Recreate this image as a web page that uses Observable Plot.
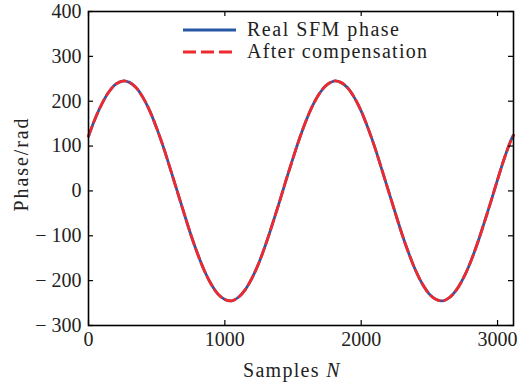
<!DOCTYPE html>
<html><head><meta charset="utf-8">
<script src="https://cdn.jsdelivr.net/npm/d3@7"></script>
<script src="https://cdn.jsdelivr.net/npm/@observablehq/plot@0.6"></script>
<style>body{margin:0;background:#fff} svg{font-family:"Liberation Serif",serif}</style>
</head><body><div id="chart"></div>
<script>
const samples = [0,50,100,150,200,250,300,350,400,450,500,550,600,650,700,750,800,850,900,950,1000,1050,1100,1150,1200,1250,1300,1350,1400,1450,1500,1550,1600,1650,1700,1750,1800,1850,1900,1950,2000,2050,2100,2150,2200,2250,2300,2350,2400,2450,2500,2550,2600,2650,2700,2750,2800,2850,2900,2950,3000,3050,3100,3117];
const realPhase = [122,162,195,221,238,245,242,230,208,178,140,97,49,0,-49,-97,-140,-178,-208,-230,-242,-245,-237,-220,-194,-160,-119,-73,-25,25,73,
  119,160,194,220,237,245,242,230,208,178,140,97,49,0,-49,-97,-140,-178,-208,-230,-242,-245,-237,-220,-194,-160,-119,-73,-25,25,73,114,124];
const compensatedPhase = [122,162,195,221,238,245,242,230,208,178,140,97,49,0,-49,-97,-140,-178,-208,-230,-242,-245,-237,-220,-194,-160,-119,-73,-25,25,73,
  119,160,194,220,237,245,242,230,208,178,140,97,49,0,-49,-97,-140,-178,-208,-230,-242,-245,-237,-220,-194,-160,-119,-73,-25,25,73,114,124];
const xTicks = [0,1000,2000,3000];
const yTicks = [-300,-200,-100,0,100,200,300,400];
const seriesNames = ["Real SFM phase","After compensation"];
const xLabel = "Samples ";
const xLabelVar = "N";
const yLabel = "Phase/rad";

const W=527,H=382,mL=88,mR=14,mT=11,mB=57;
const innerH=H-mT-mB, innerW=W-mL-mR;
const blue="#2857a6", red="#ee2a2e";
const real = samples.map((n,i)=>({n, v: realPhase[i]}));
const comp = samples.map((n,i)=>({n, v: compensatedPhase[i]}));
const fmt = d => d<0 ? "\u2212 " + Math.abs(d) : String(d);
const FS = 20;

const svg = Plot.plot({
  width:W, height:H, marginLeft:mL, marginRight:mR, marginTop:mT, marginBottom:mB,
  style:{fontFamily:"Liberation Serif, serif", fontSize:FS+"px", background:"white", color:"black", overflow:"visible"},
  x:{domain:[0,3117]},
  y:{domain:[-300,400]},
  marks:[
    Plot.axisX(xTicks,{tickSize:0, tickPadding:6, label:null, tickFormat:fmt, fontSize:FS, fill:"#222"}),
    Plot.axisY(yTicks,{tickSize:0, tickPadding:7, label:null, tickFormat:fmt, fontSize:FS, fill:"#222"}),
    Plot.line(real,{x:"n", y:"v", stroke:blue, strokeWidth:2.8, curve:"catmull-rom"}),
    Plot.line(comp,{x:"n", y:"v", stroke:red, strokeWidth:2.8, strokeDasharray:"10,5", curve:"catmull-rom"}),
    Plot.tickX(xTicks,{x:d=>d, insetTop:innerH-5, stroke:"black", strokeWidth:1.2}),
    Plot.tickX(xTicks,{x:d=>d, insetBottom:innerH-5, stroke:"black", strokeWidth:1.2}),
    Plot.tickY(yTicks,{y:d=>d, insetRight:innerW-5, stroke:"black", strokeWidth:1.2}),
    Plot.tickY(yTicks,{y:d=>d, insetLeft:innerW-5, stroke:"black", strokeWidth:1.2}),
    Plot.frame({stroke:"black", strokeWidth:1.6})
  ]
});

const s = d3.select(svg);
// legend
const lg = s.append("g").attr("text-anchor","start");
lg.append("line").attr("x1",183).attr("x2",236).attr("y1",30).attr("y2",30).attr("stroke",blue).attr("stroke-width",2.8);
lg.append("line").attr("x1",183).attr("x2",236).attr("y1",52).attr("y2",52).attr("stroke",red).attr("stroke-width",2.8).attr("stroke-dasharray","13,5");
lg.append("text").attr("x",247).attr("y",36).attr("font-size",FS).attr("fill","#222")
  .attr("textLength",152).attr("lengthAdjust","spacing").text(seriesNames[0]);
lg.append("text").attr("x",247).attr("y",58).attr("font-size",FS).attr("fill","#222")
  .attr("textLength",180).attr("lengthAdjust","spacing").text(seriesNames[1]);
// axis labels
const xl = s.append("text").attr("x",243).attr("y",377).attr("text-anchor","start").attr("font-size",FS).attr("fill","#222").attr("letter-spacing","1.3px");
xl.append("tspan").text(xLabel);
xl.append("tspan").attr("font-style","italic").text(xLabelVar);
s.append("text").attr("transform","translate(28,165) rotate(-90)").attr("text-anchor","middle").attr("font-size",FS).attr("fill","#222")
  .attr("textLength",93).attr("lengthAdjust","spacing").text(yLabel);

document.getElementById("chart").appendChild(svg);
</script></body></html>
